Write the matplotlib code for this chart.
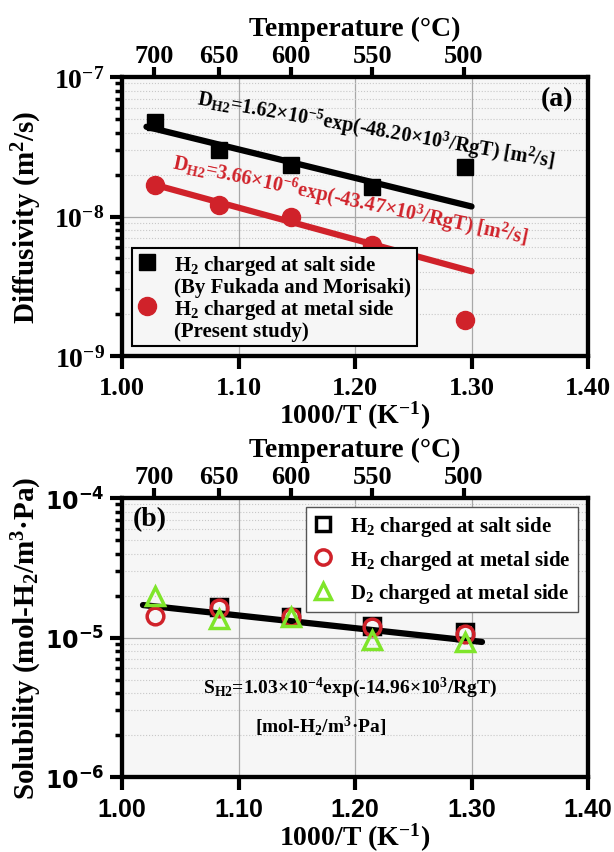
import matplotlib
matplotlib.use("Agg")
import matplotlib.pyplot as plt
from matplotlib.lines import Line2D
import numpy as np

plt.rcParams['font.family'] = ['Liberation Serif', 'DejaVu Serif']
plt.rcParams['font.weight'] = 'bold'
plt.rcParams['axes.labelweight'] = 'bold'
plt.rcParams['mathtext.fontset'] = 'custom'
plt.rcParams['mathtext.rm'] = 'Liberation Serif:bold'
plt.rcParams['mathtext.it'] = 'Liberation Serif:bold:italic'
plt.rcParams['mathtext.bf'] = 'Liberation Serif:bold'
plt.rcParams['mathtext.default'] = 'rm'

# --- Data ---
temps_C = [700, 650, 600, 550, 500]
inv_T = [1.028, 1.083, 1.145, 1.215, 1.294]          # 1000/T (K^-1)

# (a) diffusivity, m2/s
D_salt = [4.77e-8, 3.01e-8, 2.35e-8, 1.64e-8, 2.28e-8]
D_metal = [1.69e-8, 1.20e-8, 1.00e-8, 6.3e-9, 1.8e-9]
fit_salt_x = [1.021, 1.300]
fit_salt_y = [4.4e-8, 1.18e-8]
fit_metal_x = [1.028, 1.300]
fit_metal_y = [1.69e-8, 4.05e-9]

# (b) solubility, mol-H2/m3.Pa
S_H2_salt = [np.nan, 1.66e-5, 1.40e-5, 1.21e-5, 1.10e-5]
S_H2_metal = [1.43e-5, 1.63e-5, 1.40e-5, 1.19e-5, 1.06e-5]
S_D2_metal = [1.98e-5, 1.36e-5, 1.40e-5, 9.6e-6, 9.3e-6]
fit_S_x = [1.018, 1.309]
fit_S_y = [1.71e-5, 9.3e-6]

x_ticks = [1.00, 1.10, 1.20, 1.30, 1.40]
x_ticklabels = ["1.00", "1.10", "1.20", "1.30", "1.40"]

RED = "#d0222a"
GREEN = "#7fe52a"
BG = "#f6f6f6"

fig = plt.figure(figsize=(6.14, 8.53), dpi=100)
ax_a = fig.add_axes([0.1987, 0.5815, 0.759, 0.327])
ax_b = fig.add_axes([0.1987, 0.0879, 0.759, 0.327])


def style_axes(ax, ylim, yticks, ylabels, tick_font, tick_size):
    ax.set_facecolor(BG)
    ax.set_yscale("log")
    ax.set_xlim(1.0, 1.4)
    ax.set_ylim(*ylim)
    ax.set_xticks(x_ticks)
    ax.set_xticklabels(x_ticklabels, fontsize=tick_size, fontfamily=tick_font)
    ax.set_yticks(yticks)
    ax.set_yticklabels(ylabels, fontsize=tick_size + 1)
    ax.minorticks_on()
    ax.xaxis.set_minor_locator(matplotlib.ticker.NullLocator())
    ax.tick_params(which="major", direction="out", length=9, width=3, right=False, top=False)
    ax.tick_params(axis="x", which="major", pad=5.5)
    ax.tick_params(which="minor", direction="out", length=5, width=2.5, right=False, top=False)
    ax.set_axisbelow(True)
    ax.grid(True, which="major", color="#a8a8a8", lw=0.9)
    ax.grid(True, which="minor", axis="y", color="#c8c8c8", ls=":", lw=0.8)
    for s in ax.spines.values():
        s.set_linewidth(3)
    ax.set_xlabel("1000/T (K$^{-1}$)", fontsize=20)
    ax.xaxis.set_label_coords(0.5, -0.155)

    # top temperature axis
    top = ax.twiny()
    top.set_xlim(1.0, 1.4)
    top.set_xticks([1000 / (t + 273.15) for t in temps_C])
    top.set_xticklabels([str(t) for t in temps_C], fontsize=19)
    top.tick_params(direction="out", length=7, width=3, pad=0.5)
    for s in top.spines.values():
        s.set_linewidth(3)
    top.set_xlabel("Temperature (°C)", fontsize=20, labelpad=6)
    return top


# --- Panel (a): diffusivity ---
style_axes(ax_a, (1e-9, 1e-7), [1e-9, 1e-8, 1e-7],
           ["$10^{-9}$", "$10^{-8}$", "$10^{-7}$"], "Liberation Serif", 19)
ax_a.plot(fit_salt_x, fit_salt_y, color="black", lw=4.5, solid_capstyle="round")
ax_a.plot(fit_metal_x, fit_metal_y, color=RED, lw=4.5, solid_capstyle="round")
ax_a.plot(inv_T, D_salt, "s", color="black", ms=12, ls="none")
ax_a.plot(inv_T, D_metal, "o", color=RED, ms=13, ls="none")
ax_a.set_ylabel("Diffusivity (m$^2$/s)", fontsize=21)
ax_a.yaxis.set_label_coords(-0.167, 0.5)

ax_a.text(0.545, 0.81, "D$_{H2}$=1.62×10$^{-5}$exp(-48.20×10$^{3}$/RgT) [m$^{2}$/s]",
          transform=ax_a.transAxes, fontsize=14.5, rotation=-10, ha="center", va="center",
          rotation_mode="anchor")
ax_a.text(0.49, 0.56, "D$_{H2}$=3.66×10$^{-6}$exp(-43.47×10$^{3}$/RgT) [m$^{2}$/s]",
          transform=ax_a.transAxes, fontsize=14.5, rotation=-12, ha="center", va="center",
          rotation_mode="anchor", color=RED)
ax_a.text(0.933, 0.921, "(a)", transform=ax_a.transAxes, fontsize=20, ha="center", va="center")

blank = Line2D([], [], ls="none", marker="none")
handles_a = [Line2D([], [], ls="none", marker="s", color="black", ms=11), blank,
             Line2D([], [], ls="none", marker="o", color=RED, ms=13), blank]
labels_a = ["H$_2$ charged at salt side", "(By Fukada and Morisaki)",
            "H$_2$ charged at metal side", "(Present study)"]
leg_a = ax_a.legend(handles_a, labels_a, loc="lower left", bbox_to_anchor=(0.021, 0.036),
                    borderaxespad=0, fontsize=15, handlelength=1.0, handletextpad=0.8,
                    labelspacing=0.0, borderpad=0.25, fancybox=False, framealpha=1,
                    facecolor=BG, edgecolor="black")
leg_a.get_frame().set_linewidth(1.5)

# --- Panel (b): solubility ---
style_axes(ax_b, (1e-6, 1e-4), [1e-6, 1e-5, 1e-4],
           ["$\\mathbf{10^{-6}}$", "$\\mathbf{10^{-5}}$", "$\\mathbf{10^{-4}}$"],
           "Liberation Sans", 18)
for lab in ax_b.get_yticklabels():
    lab.set_math_fontfamily("dejavusans")
    lab.set_fontsize(17)
ax_b.plot(fit_S_x, fit_S_y, color="black", lw=4.5, solid_capstyle="round", zorder=3)
ax_b.plot(inv_T, S_H2_salt, "s", mfc="none", mec="black", mew=2.5, ms=11, ls="none", zorder=4)
ax_b.plot(inv_T, S_H2_metal, "o", mfc="none", mec=RED, mew=2.5, ms=12, ls="none", zorder=4)
ax_b.plot(inv_T, S_D2_metal, "^", mfc="none", mec=GREEN, mew=2.5, ms=13, ls="none", zorder=4)
ax_b.set_ylabel("Solubility (mol-H$_2$/m$^3$·Pa)", fontsize=21)
ax_b.yaxis.set_label_coords(-0.167, 0.5)

ax_b.text(0.06, 0.925, "(b)", transform=ax_b.transAxes, fontsize=20, ha="center", va="center")
ax_b.text(0.489, 0.323, "S$_{H2}$=1.03×10$^{-4}$exp(-14.96×10$^{3}$/RgT)",
          transform=ax_b.transAxes, fontsize=14, ha="center", va="center")
ax_b.text(0.427, 0.183, "[mol-H$_2$/m$^3$·Pa]",
          transform=ax_b.transAxes, fontsize=14, ha="center", va="center")

handles_b = [Line2D([], [], ls="none", marker="s", mfc="none", mec="black", mew=2.5, ms=10),
             Line2D([], [], ls="none", marker="o", mfc="none", mec=RED, mew=2.5, ms=11),
             Line2D([], [], ls="none", marker="^", mfc="none", mec=GREEN, mew=2.5, ms=12)]
labels_b = ["H$_2$ charged at salt side", "H$_2$ charged at metal side",
            "D$_2$ charged at metal side"]
leg_b = ax_b.legend(handles_b, labels_b, loc="upper right", bbox_to_anchor=(0.979, 0.968),
                    borderaxespad=0, fontsize=15, handlelength=1.0, handletextpad=0.8,
                    labelspacing=0.45, borderpad=0.35, fancybox=False, framealpha=1,
                    facecolor="white", edgecolor="#555555")
leg_b.get_frame().set_linewidth(1.0)

fig.savefig("out.png", dpi=100)
